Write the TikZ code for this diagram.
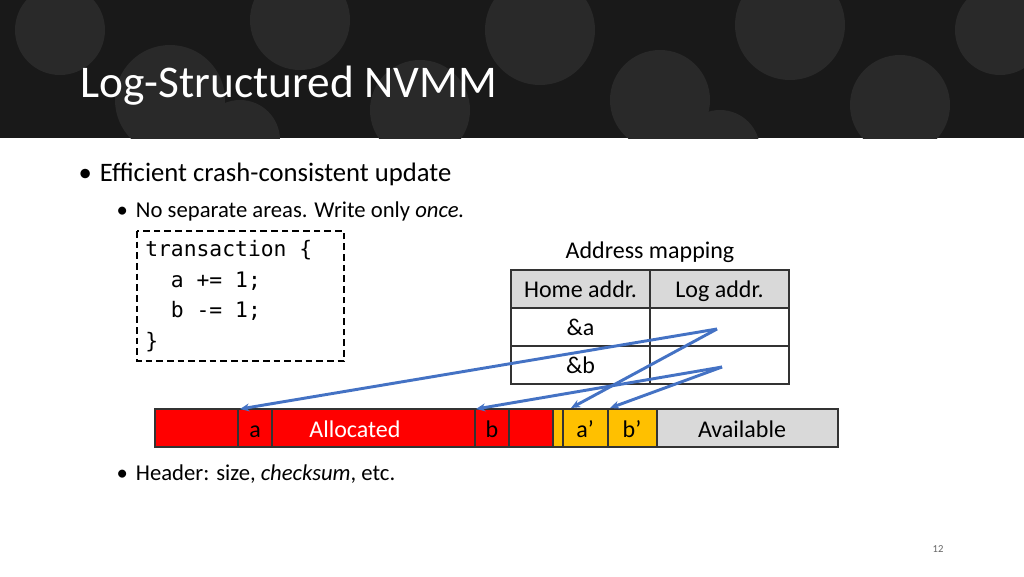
\documentclass[tikz,border=0pt]{standalone}
\usepackage{fontspec}
\setmainfont{Carlito}
\setmonofont{DejaVu Sans Mono}
\usetikzlibrary{arrows.meta}
\definecolor{arr}{HTML}{4472C4}
\definecolor{yel}{HTML}{FFC000}
\definecolor{gr}{HTML}{D9D9D9}
\tikzset{x=0.75pt,y=-0.75pt,
 seg/.style={draw=black!80,line width=0.8pt},
 cell/.style={draw=black!80,line width=0.8pt},
 lbl/.style={font=\fontsize{18}{20}\selectfont,text height=1.6ex,text depth=0.3ex},
 con/.style={draw=arr,line width=2.2pt,-{Stealth[length=7pt,width=6pt]}}}
\begin{document}
\begin{tikzpicture}
\useasboundingbox (0,0) rectangle (1024,576);
\fill[white] (0,0) rectangle (1024,576);
\begin{scope}
\clip (0,0) rectangle (1024,138);
\fill[black!90] (0,0) rectangle (1024,138);
\foreach \cx/\cy/\r in {60/30/45,170/100/55,300/20/50,420/110/50,540/30/55,660/100/50,790/25/55,900/105/50,1000/30/45,240/140/40,720/150/40}
  \fill[black!84] (\cx,\cy) circle[radius=\r];
\end{scope}
\node[anchor=west,text=white,font=\fontsize{34}{38}\selectfont] (title) at (76,86) {Log-Structured NVMM};
\node[anchor=west,font=\fontsize{20}{24}\selectfont] (b1) at (74,174) {•\hspace{6pt}Efficient crash-consistent update};
\node[anchor=west,font=\fontsize{17}{20}\selectfont] (b2) at (112,211) {•\hspace{6pt}No separate areas. Write only \textit{once.}};
\node[anchor=west,font=\fontsize{17}{20}\selectfont] (b3) at (112,474) {•\hspace{6pt}Header: size, \textit{checksum}, etc.};
\draw[dash pattern=on 5pt off 3pt,line width=0.9pt] (137,231) rectangle (344,361);
\node[anchor=north west,align=left,font=\ttfamily\fontsize{16}{23}\selectfont,inner sep=0pt] (code) at (145,240) {transaction \{\\\ \ a += 1;\\\ \ b -= 1;\\\}};
\node[lbl] (am) at (650,254) {Address mapping};
\fill[gr] (511,270) rectangle (789,308);
\draw[cell] (511,270) rectangle (789,384);
\draw[cell] (511,308) -- (789,308) (511,346) -- (789,346) (650,270) -- (650,384);
\node[lbl] (h1) at (580.5,293) {Home addr.};
\node[lbl] (h2) at (719.5,293) {Log addr.};
\node[lbl] (ra) at (580.5,331) {\&a};
\node[lbl] (rb) at (580.5,369) {\&b};
\coordinate (la) at (717,329);
\coordinate (lb) at (722,367);
\fill[red] (155,409) rectangle (553,447);
\draw[seg] (155,409) rectangle (553,447);
\draw[seg] (238,409) rectangle (272,447);
\draw[seg] (475,409) rectangle (509,447);
\fill[yel] (553,409) rectangle (657,447);
\draw[seg] (553,409) rectangle (657,447);
\draw[seg] (563,409) -- (563,447) (608,409) -- (608,447);
\fill[gr] (657,409) rectangle (838,447);
\draw[seg] (657,409) rectangle (838,447);
\node[lbl] (a) at (255,433) {a};
\node[lbl,text=white] (al) at (355,433) {Allocated};
\node[lbl] (b) at (492,433) {b};
\node[lbl] (ap) at (585,433) {a’};
\node[lbl] (bp) at (632,433) {b’};
\node[lbl] (av) at (742,433) {Available};
\coordinate (ta) at (240,409);
\coordinate (tb) at (476,409);
\coordinate (tap) at (571,408);
\coordinate (tbp) at (610,408);
\draw[con] (la) -- (ta);
\draw[con] (la) -- (tap);
\draw[con] (lb) -- (tb);
\draw[con] (lb) -- (tbp);
\node[font=\fontsize{8}{9}\selectfont,text=black!60] (pg) at (938,549) {12};
\end{tikzpicture}
\end{document}
